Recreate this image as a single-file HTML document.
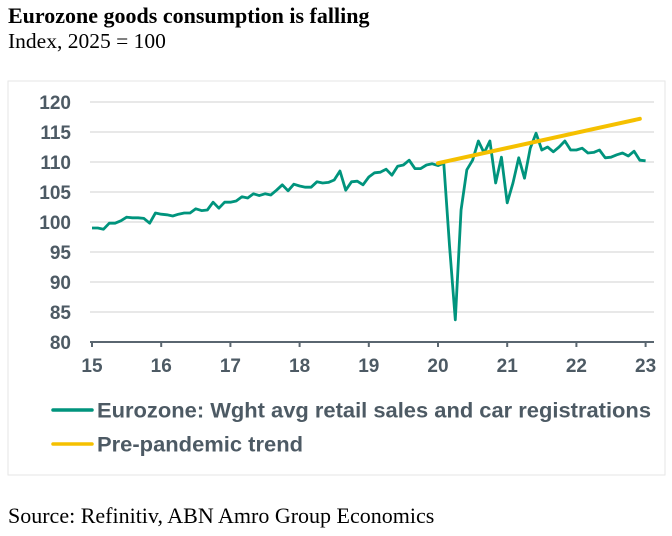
<!DOCTYPE html>
<html><head><meta charset="utf-8"><style>
body{margin:0;background:#fff;width:672px;height:536px;overflow:hidden;position:relative;font-family:"Liberation Serif",serif}
.t{position:absolute;left:8px;color:#000;line-height:1;white-space:nowrap}
</style></head><body>
<div class="t" style="top:5px;font-size:22px;font-weight:bold">Eurozone goods consumption is falling</div>
<div class="t" style="top:31px;font-size:21.5px">Index, 2025 = 100</div>
<div class="t" style="top:505px;font-size:22px">Source: Refinitiv, ABN Amro Group Economics</div>
<svg id="c" width="672" height="536" style="position:absolute;left:0;top:0" font-family="Liberation Sans, sans-serif" font-weight="bold"></svg>
<script>
const yTicks=[80,85,90,95,100,105,110,115,120];
const xTickLabels=["15","16","17","18","19","20","21","22","23"];
const retail=[99.0,99.0,98.8,99.8,99.8,100.2,100.8,100.7,100.7,100.6,99.8,101.5,
101.3,101.2,101.0,101.3,101.5,101.5,102.2,101.9,102.0,103.3,102.3,103.3,
103.3,103.5,104.2,104.0,104.7,104.4,104.7,104.5,105.3,106.2,105.2,106.3,
106.0,105.8,105.8,106.7,106.5,106.6,107.0,108.5,105.3,106.7,106.8,106.2,
107.5,108.2,108.3,108.8,107.8,109.3,109.5,110.3,108.9,108.9,109.5,109.7,
109.4,109.8,96.0,83.7,102.0,108.7,110.3,113.5,111.5,113.5,106.5,110.8,
103.2,106.5,110.7,107.3,112.3,114.8,112.0,112.5,111.7,112.5,113.5,112.0,
112.0,112.3,111.5,111.6,112.0,110.7,110.8,111.2,111.5,111.0,111.8,110.3,110.2];
const trendMonths=[60,95];
const trendValues=[109.8,117.2];
const svg=document.getElementById('c');const NS='http://www.w3.org/2000/svg';
const x0=92,yearW=69.2,y0=342,pxPer=6;
const X=m=>x0+m*yearW/12, Y=v=>y0-(v-80)*pxPer;
const TC='#4d5a64';
function mk(t,a){const e=document.createElementNS(NS,t);for(const k in a)e.setAttribute(k,a[k]);svg.appendChild(e);return e;}
const fr=mk('rect',{x:8,y:81,width:657,height:394,fill:'none',stroke:'#e6e6e6'});


yTicks.forEach(v=>{
 if(v>80){const g=mk('line',{x1:90,x2:654,y1:Y(v),y2:Y(v),stroke:'#d9d9d9','stroke-width':1.3});
 
 }
 const t=mk('text',{x:71,y:Y(v)+7,'font-size':19,fill:TC,'text-anchor':'end'});t.textContent=v;
 
 
});
const ax=mk('line',{x1:90,x2:654,y1:y0,y2:y0,stroke:'#5a6670','stroke-width':2});


xTickLabels.forEach((l,i)=>{
 const tk=mk('line',{x1:X(i*12),x2:X(i*12),y1:y0,y2:y0+5,stroke:'#5a6670','stroke-width':2});
 
 
 const t=mk('text',{x:X(i*12),y:372,'font-size':19,fill:TC,'text-anchor':'middle'});t.textContent=l;
 
 });
const p=mk('polyline',{points:retail.map((v,i)=>X(i)+','+Y(v)).join(' '),fill:'none',stroke:'#00947d','stroke-width':2.8,'stroke-linejoin':'round'});


const tr=mk('polyline',{points:trendMonths.map((m,i)=>X(m)+','+Y(trendValues[i])).join(' '),fill:'none',stroke:'#f5c000','stroke-width':4,'stroke-linecap':'round'});


[["#00947d","Eurozone: Wght avg retail sales and car registrations",410],["#f5c000","Pre-pandemic trend",444]].forEach((d,i)=>{
 const l=mk('line',{x1:53,x2:92,y1:d[2],y2:d[2],stroke:d[0],'stroke-width':3.5,'stroke-linecap':'round'});
 
 
 const t=mk('text',{x:97,y:d[2]+7.5,'font-size':21,fill:TC,textLength:i==0?554:206,lengthAdjust:'spacingAndGlyphs'});t.textContent=d[1];
 
 
});
</script>
</body></html>
